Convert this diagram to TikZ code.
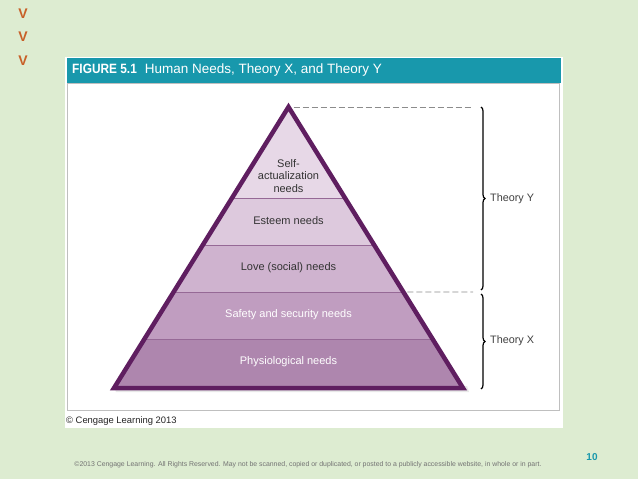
\documentclass[tikz,border=0pt]{standalone}
\usepackage{fontspec}
\setmainfont{Liberation Sans}
\usetikzlibrary{positioning,calc,decorations.pathreplacing,shadows}
\definecolor{slidegreen}{RGB}{221,236,209}
\definecolor{barteal}{RGB}{24,152,172}
\definecolor{vorange}{RGB}{200,96,40}
\definecolor{pyrline}{RGB}{95,30,96}
\definecolor{sepline}{RGB}{150,105,150}
\definecolor{lvlself}{RGB}{231,216,231}
\definecolor{lvlesteem}{RGB}{221,201,221}
\definecolor{lvllove}{RGB}{207,179,207}
\definecolor{lvlsafety}{RGB}{192,157,192}
\definecolor{lvlphys}{RGB}{174,134,174}
\tikzset{
  lvllbl/.style={font=\fontsize{11}{12.8}\selectfont,text=black!80,align=center,inner sep=1pt},
  lvllblw/.style={lvllbl,text=white},
  thybrace/.style={decorate,decoration={brace,amplitude=4pt},line width=1.2pt},
  guide/.style={dash pattern=on 6pt off 3pt,black!45,line width=0.8pt},
  thylbl/.style={font=\fontsize{10.8}{12}\selectfont,text=black!75,anchor=west,inner sep=0pt},
  vmark/.style={font=\bfseries\fontsize{14}{14}\selectfont,text=vorange,inner sep=0pt},
}

\begin{document}
\begin{tikzpicture}[x=1pt,y=-1pt]
  \useasboundingbox[fill=slidegreen] (0,0) rectangle (638,479);
  % bullets
  \foreach \yy/\nm in {14/va,37/vb,61/vc}
    \node[vmark] (\nm) at (23,\yy) {V};
  % panel and heading
  \fill[white] (65,57) rectangle (563,428);
  \fill[barteal] (67,58) rectangle (561,83);
  \draw[black!25,line width=0.8pt] (67,83) rectangle (559,410);
  \node[anchor=west,text=white,inner sep=0pt,font=\fontsize{13.5}{15}\selectfont] (title) at (72,70.5)
    {\scalebox{0.88}[1]{\bfseries FIGURE 5.1}\hspace{8pt}Human Needs, Theory X, and Theory Y};
  % pyramid
  \coordinate (apex) at (288.5,107);
  \coordinate (bl) at (114,388);
  \coordinate (br) at (463,388);
  \fill[black!15,opacity=0.6] ($(bl)+(2,4)$) -- ($(br)+(6,4)$) -- ($(br)+(4,-2)$) -- ($(bl)+(0,-2)$) -- cycle;
  \begin{scope}
    \clip (apex) -- (bl) -- (br) -- cycle;
    \fill[lvlself] (100,100) rectangle (480,198);
    \fill[lvlesteem] (100,198) rectangle (480,245);
    \fill[lvllove] (100,245) rectangle (480,292);
    \fill[lvlsafety] (100,292) rectangle (480,339);
    \fill[lvlphys] (100,339) rectangle (480,392);
    \foreach \yy in {198,245,292,339}
      \draw[sepline,line width=0.8pt] (100,\yy) -- (480,\yy);
  \end{scope}
  \draw[pyrline,line width=4.5pt,line join=miter] (apex) -- (bl) -- (br) -- cycle;
  % level labels
  \node[lvllbl] (self) at (288.5,176) {Self-\\actualization\\needs};
  \node[lvllbl] (esteem) at (288.5,221) {Esteem needs};
  \node[lvllbl] (love) at (288.5,268) {Love (social) needs};
  \node[lvllblw] (safety) at (288.5,315) {Safety and security needs};
  \node[lvllblw] (phys) at (288.5,362) {Physiological needs};
  % theory guides and braces
  \coordinate (cut) at ($(apex)!0.6584!(br)$);
  \coordinate (gtop) at (473,107);
  \coordinate (gmid) at (473,292);
  \draw[guide] ($(apex)+(5,0)$) -- (gtop);
  \draw[guide] ($(cut)+(4,0)$) -- (gmid);
  \coordinate (ytop) at (481,107);
  \coordinate (ybot) at (481,290);
  \coordinate (xtop) at (481,294);
  \coordinate (xbot) at (481,389);
  \draw[thybrace] (ytop) -- (ybot);
  \draw[thybrace] (xtop) -- (xbot);
  \node[thylbl] (thy) at (490,199) {Theory Y};
  \node[thylbl] (thx) at (490,341) {Theory X};
  % credits
  \node[anchor=west,inner sep=0pt,text=black!85,font=\fontsize{9.4}{11}\selectfont] (credit) at (66,421) {© Cengage Learning 2013};
  \node[inner sep=0pt,text=black!55,font=\fontsize{6.9}{8}\selectfont] (footer) at (308,465)
    {©2013 Cengage Learning. All Rights Reserved. May not be scanned, copied or duplicated, or posted to a publicly accessible website, in whole or in part.};
  \node[inner sep=0pt,text=barteal,font=\bfseries\fontsize{10}{12}\selectfont] (pgno) at (592,457) {10};
\end{tikzpicture}
\end{document}
